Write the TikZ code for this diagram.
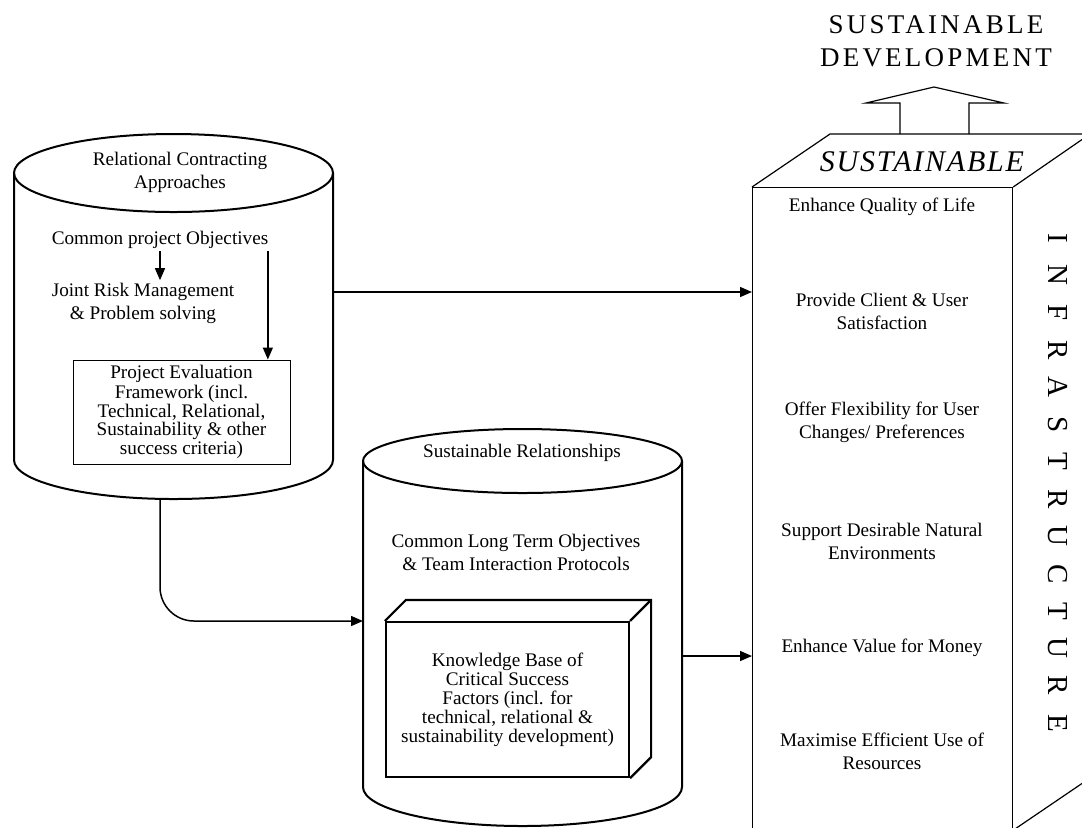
\documentclass[tikz,border=0pt]{standalone}
\usepackage{fontspec}
\setmainfont{Liberation Serif}
\usetikzlibrary{arrows.meta}

\begin{document}
\begin{tikzpicture}[x=0.5pt, y=-0.5pt, line width=0.6pt, >={Triangle[length=6pt,width=5pt]},
    txt/.style={font=\fontsize{9.6}{11.5}\selectfont, align=center, inner sep=1pt},
    tight/.style={font=\fontsize{9.6}{8.7}\selectfont, align=center, inner sep=1pt},
    link/.style={->, line width=0.75pt}]
        \useasboundingbox (0,0) rectangle (1082,827);
        \clip (0,0) rectangle (1082,827);

        \draw[line width=1pt] (14,173) -- (14,460) arc (180:0:159.5 and 39) -- (333,173);
        \draw[line width=1pt] (173.5,173) ellipse (159.5 and 39);
        \node[txt] (rca) at (180,172) {Relational Contracting\\Approaches};
        \node[txt] (cpo) at (160,240) {Common project Objectives};
        \node[txt] (jrm) at (143,303) {Joint Risk Management\\\& Problem solving};
        \node[tight, draw, line width=0.5pt, minimum width=108.5pt, minimum height=52pt] (pef) at (181.5,412)
            {Project Evaluation\\Framework (incl.\\Technical, Relational,\\Sustainability \& other\\success criteria)};
        \draw[link] (cpo.south) -- (cpo.south |- jrm.north);
        \draw[link] ([xshift=-1.5pt]cpo.south east) -- ([xshift=-1.5pt]cpo.south east |- pef.north);
        \coordinate (rcaE) at (333,292);
        \coordinate (rcaB) at (160,498);

        \draw[line width=1pt] (363,461) -- (363,787) arc (180:0:159.5 and 39) -- (682,461);
        \draw[line width=1pt] (522.5,461) ellipse (159.5 and 32);
        \node[txt] (srl) at (522,453) {Sustainable Relationships};
        \node[txt] (clt) at (516,552) {Common Long Term Objectives\\\& Team Interaction Protocols};
        \node[font=\fontsize{9.6}{9.5}\selectfont, align=center, draw, line width=1.1pt, minimum width=121.5pt, minimum height=77.5pt] (kb) at (507.5,699.5)
            {Knowledge Base of\\Critical Success\\Factors (incl. for\\technical, relational \&\\sustainability development)};
        \draw[line width=1.1pt] (kb.north west) -- ++(21,-21) -| ([shift={(21,-21)}]kb.south east) -- (kb.south east);
        \draw[line width=1.1pt] (kb.north east) -- ++(21,-21);
        \coordinate (srW) at (363,621);
        \coordinate (srE) at (682,656);

        \node[draw, anchor=north west, minimum width=130pt, minimum height=321pt, inner sep=0] (infra) at (752,187) {};
        \draw (infra.north west) -- ++(78,-53) -- ++(260,0) -- (infra.north east);
        \draw (infra.south east) -- ++(78,-53);
        \node[font=\fontsize{15}{18}\selectfont\itshape\addfontfeature{LetterSpace=6}] (sust) at (922,162) {SUSTAINABLE};
        \draw (900,134) -- (900,103) -- (866,103) -- (934,87) -- (1004,103) -- (969,103) -- (969,134);
        \node[align=center, font=\fontsize{13.5}{16.5}\selectfont\addfontfeature{LetterSpace=12}] (sd) at (936,41) {SUSTAINABLE\\DEVELOPMENT};

        \node[txt] (q1) at (882,207) {Enhance Quality of Life};
        \node[txt] (q2) at (882,311) {Provide Client \& User\\Satisfaction};
        \node[txt] (q3) at (882,422) {Offer Flexibility for User\\Changes/ Preferences};
        \node[txt] (q4) at (882,541) {Support Desirable Natural\\Environments};
        \node[txt] (q5) at (882,648) {Enhance Value for Money};
        \node[txt] (q6) at (882,751) {Maximise Efficient Use of\\Resources};
        \foreach \ch [count=\i from 0] in {I,N,F,R,A,S,T,R,U,C,T,U,R,E}
            \node[rotate=-90, font=\fontsize{14.5}{17}\selectfont] (L\i) at (1058,238+37.3*\i) {\ch};

        \draw[link] (rcaE) -- (rcaE -| infra.west);
        \draw[link, rounded corners=17pt] (rcaB) |- (srW);
        \draw[link] (srE) -- (srE -| infra.west);
    \end{tikzpicture}
\end{document}
